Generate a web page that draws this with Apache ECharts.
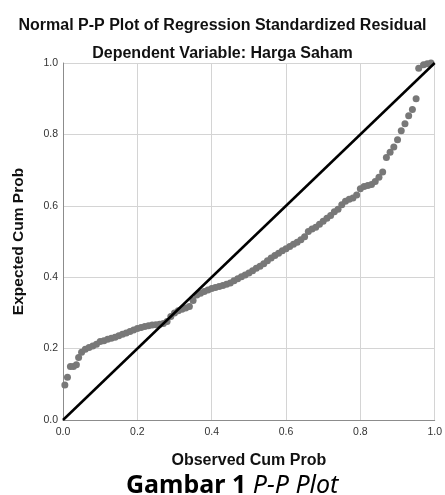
<!DOCTYPE html>
<html>
<head>
<meta charset="utf-8">
<script src="https://cdn.jsdelivr.net/npm/echarts@6/dist/echarts.min.js"></script>
<style>
  html, body { margin: 0; padding: 0; background: #fff; }
  #chart { width: 445px; height: 495px; }
</style>
</head>
<body>
<div id="chart"></div>
<script>
// observed cumulative probability (x)
var observed = [
  0.005, 0.012, 0.020, 0.028, 0.036, 0.042, 0.050, 0.060, 0.070, 0.080,
  0.090, 0.100, 0.110, 0.120, 0.130, 0.140, 0.150, 0.160, 0.170, 0.180,
  0.190, 0.200, 0.210, 0.220, 0.230, 0.240, 0.250, 0.260, 0.270, 0.280,
  0.290, 0.300, 0.310, 0.320, 0.330, 0.340, 0.350, 0.360, 0.370, 0.380,
  0.390, 0.400, 0.410, 0.420, 0.430, 0.440, 0.450, 0.460, 0.470, 0.480,
  0.490, 0.500, 0.510, 0.520, 0.530, 0.540, 0.550, 0.560, 0.570, 0.580,
  0.590, 0.600, 0.610, 0.620, 0.630, 0.640, 0.650, 0.660, 0.670, 0.680,
  0.690, 0.700, 0.710, 0.720, 0.730, 0.740, 0.750, 0.760, 0.770, 0.780,
  0.790, 0.800, 0.810, 0.820, 0.830, 0.840, 0.850, 0.860, 0.870, 0.880,
  0.890, 0.900, 0.910, 0.920, 0.930, 0.940, 0.950, 0.957, 0.970, 0.980,
  0.990
];
// expected cumulative probability (y)
var expected = [
  0.098, 0.120, 0.150, 0.150, 0.155, 0.175, 0.190, 0.198, 0.203, 0.207,
  0.212, 0.220, 0.222, 0.226, 0.229, 0.232, 0.236, 0.240, 0.244, 0.248,
  0.252, 0.256, 0.259, 0.262, 0.264, 0.266, 0.267, 0.268, 0.270, 0.276,
  0.290, 0.300, 0.306, 0.310, 0.314, 0.318, 0.335, 0.350, 0.355, 0.360,
  0.364, 0.368, 0.371, 0.374, 0.377, 0.380, 0.384, 0.390, 0.396, 0.401,
  0.406, 0.412, 0.418, 0.425, 0.431, 0.438, 0.446, 0.454, 0.461, 0.467,
  0.474, 0.480, 0.486, 0.492, 0.498, 0.505, 0.513, 0.528, 0.535, 0.540,
  0.548, 0.557, 0.565, 0.573, 0.583, 0.590, 0.603, 0.613, 0.618, 0.622,
  0.630, 0.648, 0.654, 0.657, 0.660, 0.668, 0.680, 0.695, 0.735, 0.750,
  0.765, 0.785, 0.810, 0.830, 0.852, 0.870, 0.900, 0.985, 0.995, 0.998,
  1.000
];
// reference line (observed = expected)
var diagX = [0, 1];
var diagY = [0, 1];
var tickLabels = ["0.0", "0.2", "0.4", "0.6", "0.8", "1.0"];

var points = observed.map(function (x, i) { return [x, expected[i]]; });
var diagonal = diagX.map(function (x, i) { return [x, diagY[i]]; });

var chart = echarts.init(document.getElementById("chart"), null, { renderer: "canvas" });

var axisCommon = {
  type: "value",
  min: 0,
  max: 1,
  interval: 0.2,
  axisTick: { show: false },
  axisLine: { show: true, lineStyle: { color: "#8c8c8c", width: 1 } },
  splitLine: { show: true, lineStyle: { color: "#d4d4d4", width: 1 } },
  axisLabel: {
    color: "#333",
    fontFamily: "Liberation Sans",
    fontSize: 10.5,
    formatter: function (v) { return tickLabels[Math.round(v * 5)]; }
  },
  nameTextStyle: {
    color: "#111",
    fontFamily: "Liberation Sans",
    fontWeight: "bold",
    fontSize: 16
  }
};

chart.setOption({
  backgroundColor: "#fff",
  animation: false,
  title: [
    {
      text: "Normal P-P Plot of Regression Standardized Residual",
      left: "center",
      top: 13,
      textStyle: { fontFamily: "Liberation Sans", fontWeight: "bold", fontSize: 16, color: "#111" }
    },
    {
      text: "Dependent Variable: Harga Saham",
      left: "center",
      top: 41,
      textStyle: { fontFamily: "Liberation Sans", fontWeight: "bold", fontSize: 16, color: "#111" }
    },
    {
      text: "{b|Gambar 1 }{i|P-P Plot}",
      left: 121,
      top: 468,
      textStyle: {
        rich: {
          b: { fontFamily: "Noto Sans", fontWeight: "bold", fontSize: 25, color: "#000" },
          i: { fontFamily: "Noto Sans", fontStyle: "italic", fontWeight: "normal", fontSize: 25, color: "#000" }
        }
      }
    }
  ],
  grid: { left: 63, right: 7, top: 63, bottom: 75 },
  xAxis: Object.assign({}, axisCommon, {
    name: "Observed Cum Prob",
    nameLocation: "middle",
    nameGap: 33,
    axisLabel: Object.assign({}, axisCommon.axisLabel, { margin: 7 })
  }),
  yAxis: Object.assign({}, axisCommon, {
    name: "Expected Cum Prob",
    nameLocation: "middle",
    nameGap: 36,
    nameTextStyle: Object.assign({}, axisCommon.nameTextStyle, { fontSize: 15.5 }),
    axisLabel: Object.assign({}, axisCommon.axisLabel, { margin: 5 })
  }),
  series: [
    {
      type: "scatter",
      data: points,
      symbol: "circle",
      symbolSize: 7,
      itemStyle: { color: "#787878", opacity: 1 },
      z: 2
    },
    {
      type: "line",
      data: diagonal,
      symbol: "none",
      lineStyle: { color: "#000", width: 2.5 },
      z: 3
    }
  ]
});
</script>
</body>
</html>
